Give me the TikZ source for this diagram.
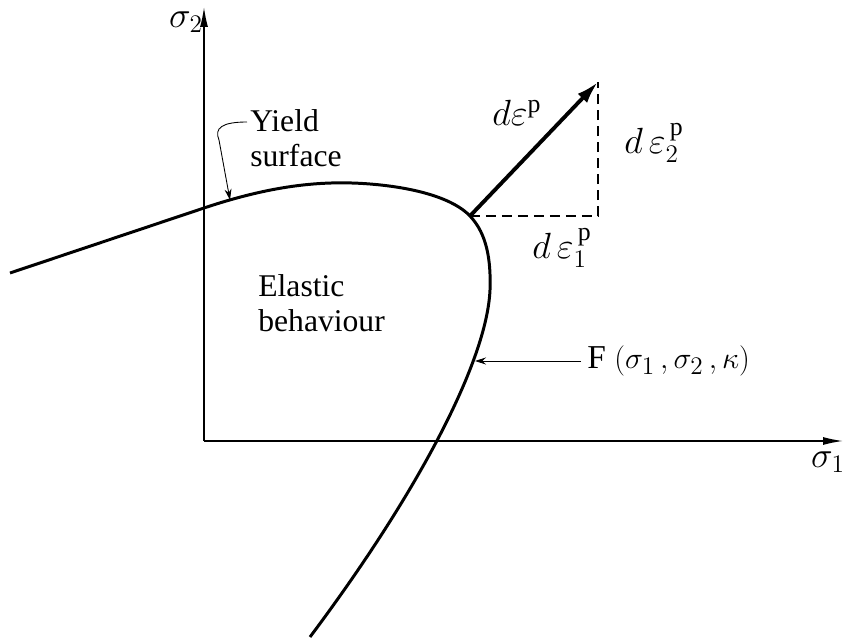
\documentclass[tikz,border=0pt]{standalone}
\usepackage{amsmath,amssymb}
\usepackage{fontspec}
\setmainfont{Liberation Serif}
\usepackage{tikz}
\usetikzlibrary{calc,arrows.meta,positioning}
\tikzset{
  ax/.style={line width=0.8pt,-{Latex[length=4mm,width=1.6mm]}},
  ys/.style={line width=1.7pt,line join=round},
  lead/.style={line width=0.5pt,-{Stealth[length=2.2mm,width=1.4mm]}},
  dv/.style={line width=2.2pt,-{Latex[length=4.5mm,width=2.6mm]}},
  dsh/.style={line width=0.6pt,dash pattern=on 0.2cm off 0.12cm},
  lbl/.style={font=\fontsize{18}{20}\selectfont,inner sep=0pt},
  mlbl/.style={font=\fontsize{21}{23}\selectfont,inner sep=0pt}
}
\begin{document}
\begin{tikzpicture}[x=0.02cm,y=-0.02cm]
\useasboundingbox (0,0) rectangle (843,642);
% axes
\coordinate (O) at (204,441);
\coordinate (xt) at (843,441);
\coordinate (yt) at (204,7);
\draw[ax] (O)--(xt);
\draw[ax] (O)--(yt);
\node[mlbl] (s1) at (828,462) {$\sigma_1$};
\node[mlbl] (s2) at (186,22) {$\sigma_2$};
% yield surface
\draw[ys] (10,273) -- (204,208) .. controls (270,186) and (320,180) .. (370,184)
  .. controls (420,188) and (455,200) .. (470,216)
  .. controls (487,234) and (491,260) .. (490,290)
  .. controls (487,360) and (420,490) .. (310,637);
\coordinate (P) at (470,216);
\coordinate (Q) at (598,82);
\coordinate (R) at (598,216);
\coordinate (ytip) at (230,200);
\coordinate (ftip) at (475,361);
% labels
\node[lbl,align=left,anchor=west] (yld) at (250,138) {Yield\\surface};
\node[lbl,align=left,anchor=west] (el) at (258,303) {Elastic\\behaviour};
\node[lbl,anchor=west,font=\fontsize{19}{21}\selectfont] (F) at (587,361) {F $(\sigma_1\,,\sigma_2\,,\kappa)$};
\node[mlbl] (de) at (517,113) {$d\varepsilon^{\mathrm{p}}$};
\node[mlbl] (de2) at (654,143) {$d\,\varepsilon_2^{\,\mathrm{p}}$};
\node[mlbl] (de1) at (562,248) {$d\,\varepsilon_1^{\,\mathrm{p}}$};
% leaders and increment
\draw[lead] ($(yld.west)+(-3,-16)$) .. controls (222,122) and (214,128) .. (219,140) -- (ytip);
\draw[lead] (F.west)++(-6,0) -- (ftip);
\draw[dsh] (P)--(R)--(Q);
\draw[dv] (P)--(Q);
\end{tikzpicture}
\end{document}
